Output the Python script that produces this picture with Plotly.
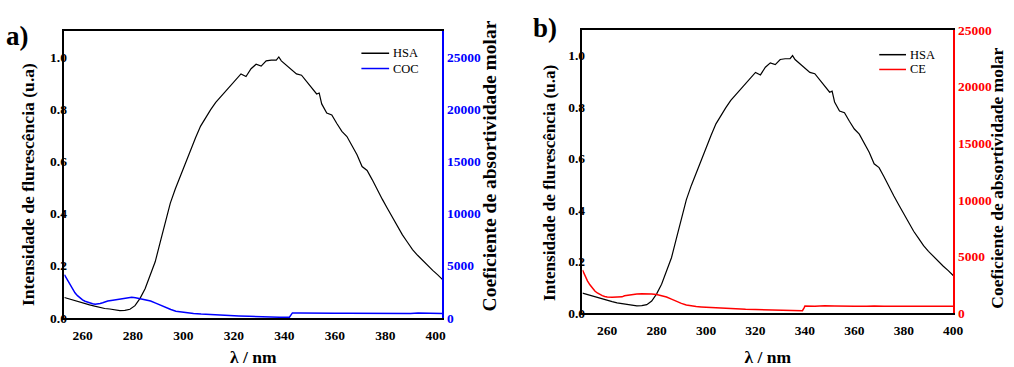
import plotly.graph_objects as go

# ---- Fluorescence emission of HSA (normalised), sampled every 2 nm from 250 nm
hsa_wavelength = list(range(250, 336, 2)) + [335] + list(range(336, 351, 2)) + [351] + list(range(352, 401, 2))
hsa_intensity = [
    0.078, 0.072, 0.068, 0.062, 0.056, 0.050, 0.045, 0.040, 0.036, 0.034,
    0.031, 0.028, 0.029, 0.033, 0.047, 0.075, 0.112, 0.160, 0.215, 0.290,
    0.370, 0.440, 0.495, 0.545, 0.597, 0.640, 0.690, 0.735, 0.768, 0.798,
    0.826, 0.848, 0.870, 0.890, 0.910, 0.935, 0.925, 0.955, 0.972, 0.965,
    0.985, 0.988, 0.988, 1.000, 0.985, 0.968, 0.950, 0.935, 0.930, 0.905,
    0.882, 0.858, 0.862, 0.820, 0.785, 0.778, 0.745, 0.715, 0.695, 0.660,
    0.625, 0.580, 0.565, 0.530, 0.490, 0.455, 0.420, 0.385, 0.350, 0.318,
    0.290, 0.262, 0.240, 0.220, 0.200, 0.182, 0.165, 0.146,
]
# panel a) spectrum was recorded on a window shifted to 252.8 nm
shift_a = 2.8
hsa_wavelength_a = [w + shift_a for w in hsa_wavelength]

# ---- Molar absorptivity of COC (panel a)
coc_wavelength = [
    252.8, 254, 255, 256, 257, 258, 259, 260, 261, 262, 263, 264, 265, 266,
    267, 268, 269, 270, 272, 274, 276, 278, 279.5, 281, 283, 285, 287, 289,
    291, 293, 295, 297, 299, 301, 304, 307, 310, 314, 318, 322, 326, 330,
    334, 338, 342, 342.6, 343.2, 346, 350, 355, 360, 365, 370, 375, 380,
    385, 390, 393, 396, 400, 402.6,
]
coc_absorptivity = [
    4140, 3600, 3150, 2750, 2400, 2130, 1900, 1730, 1600, 1500, 1420, 1360,
    1320, 1330, 1380, 1450, 1560, 1620, 1700, 1790, 1870, 1950, 1980, 1940,
    1850, 1750, 1620, 1420, 1200, 1000, 800, 640, 560, 520, 430, 370, 320,
    270, 220, 180, 150, 110, 90, 70, 70, 300, 480, 470, 450, 460, 440, 450,
    430, 430, 420, 430, 420, 460, 430, 420, 410,
]

# ---- Molar absorptivity of CE (panel b)
ce_wavelength = [
    250, 251, 252, 253, 254, 255, 256, 257, 258, 259, 260, 262, 264, 266,
    267, 268, 270, 272, 274, 276, 278, 280, 282, 284, 286, 288, 290, 292,
    294, 296, 298, 300, 304, 306, 308, 312, 316, 320, 325, 327, 330, 335,
    339, 339.6, 340, 344, 348, 352, 356, 360, 365, 368, 372, 380, 386, 388,
    392, 400,
]
ce_absorptivity = [
    3800, 3300, 2850, 2500, 2200, 1950, 1780, 1640, 1540, 1470, 1420, 1400,
    1400, 1440, 1530, 1570, 1620, 1680, 1720, 1720, 1690, 1640, 1560, 1420,
    1240, 1040, 860, 720, 630, 580, 550, 520, 500, 450, 410, 370, 340, 320,
    300, 270, 260, 230, 220, 450, 620, 600, 660, 640, 600, 600, 600, 640,
    600, 600, 590, 560, 600, 600,
]

intensity_ticks = [0.0, 0.2, 0.4, 0.6, 0.8, 1.0]
intensity_labels = ["0.0", "0.2", "0.4", "0.6", "0.8", "1.0"]
absorptivity_ticks = [0, 5000, 10000, 15000, 20000, 25000]
absorptivity_labels = ["0", "5000", "10000", "15000", "20000", "25000"]
wavelength_ticks = [260, 280, 300, 320, 340, 360, 380, 400]
wavelength_labels = ["260", "280", "300", "320", "340", "360", "380", "400"]

FONT = "Liberation Serif, Times New Roman, serif"
W, H = 1014, 367
BLUE, RED = "#0000ff", "#ff0000"


def px_x(p):
    return p / W


def px_y(p):
    return 1 - p / H


def bold(labels):
    return ["<b>%s</b>" % s for s in labels]


fig = go.Figure()

fig.add_trace(go.Scatter(x=hsa_wavelength_a, y=hsa_intensity, name="HSA",
                         mode="lines", line=dict(color="black", width=1.2),
                         xaxis="x", yaxis="y"))
fig.add_trace(go.Scatter(x=coc_wavelength, y=coc_absorptivity, name="COC",
                         mode="lines", line=dict(color=BLUE, width=1.5),
                         xaxis="x", yaxis="y2"))
fig.add_trace(go.Scatter(x=hsa_wavelength, y=hsa_intensity, name="HSA",
                         mode="lines", line=dict(color="black", width=1.2),
                         xaxis="x2", yaxis="y3"))
fig.add_trace(go.Scatter(x=ce_wavelength, y=ce_absorptivity, name="CE",
                         mode="lines", line=dict(color=RED, width=1.5),
                         xaxis="x2", yaxis="y4"))

tick_font = dict(family=FONT, size=13.5, color="black")


def x_axis(domain, rng, anchor, standoff):
    return dict(domain=domain, range=rng, anchor=anchor,
                tickvals=wavelength_ticks, ticktext=bold(wavelength_labels),
                ticks="", ticklen=0, showgrid=False, zeroline=False,
                showline=True, linecolor="black", linewidth=1.5, mirror=True,
                tickfont=tick_font, ticklabelstandoff=4,
                title=dict(text="<b>λ / nm</b>",
                           font=dict(family=FONT, size=17.5, color="black"),
                           standoff=standoff))


def left_axis(domain, anchor):
    return dict(domain=domain, anchor=anchor, range=[0, 1.1],
                tickvals=intensity_ticks, ticktext=bold(intensity_labels),
                ticks="", ticklen=0, ticklabelstandoff=-7,
                showgrid=False, zeroline=False,
                showline=True, linecolor="black", linewidth=1.5, tickfont=tick_font)


def right_axis(overlay, anchor, top, color):
    return dict(overlaying=overlay, side="right", anchor=anchor, range=[0, top],
                tickvals=absorptivity_ticks, ticktext=bold(absorptivity_labels),
                ticks="", ticklen=0, showgrid=False, zeroline=False,
                showline=True, linecolor=color, linewidth=2,
                tickfont=dict(tick_font, color=color))


def vertical_title(text, x, y, size):
    return dict(text="<b>%s</b>" % text, x=px_x(x), y=px_y(y), xref="paper", yref="paper",
                xanchor="center", yanchor="middle", textangle=-90, showarrow=False,
                font=dict(family=FONT, size=size, color="black"))


def legend_entry(label, color, x0, x1, y):
    line = dict(type="line", xref="paper", yref="paper",
                x0=px_x(x0), x1=px_x(x1), y0=px_y(y), y1=px_y(y),
                line=dict(color=color, width=1.5))
    text = dict(text=label, x=px_x(x1 + 2), y=px_y(y), xref="paper", yref="paper",
                xanchor="left", yanchor="middle", showarrow=False,
                font=dict(family=FONT, size=12.5, color="black"))
    return line, text


legend_items = [
    legend_entry("HSA", "black", 365, 393, 48.5),
    legend_entry("COC", BLUE, 365, 393, 64.5),
    legend_entry("HSA", "black", 888, 915, 50),
    legend_entry("CE", RED, 888, 915, 65.5),
]

fig.update_layout(
    width=W, height=H,
    margin=dict(l=0, r=0, t=0, b=0),
    paper_bgcolor="white", plot_bgcolor="white",
    showlegend=False,
    xaxis=x_axis([px_x(65), px_x(446.7)], [252.8, 402.6], "y", 12),
    yaxis=left_axis([px_y(326), px_y(25)], "x"),
    yaxis2=right_axis("y", "x", 27500, BLUE),
    xaxis2=x_axis([px_x(588.3), px_x(962.7)], [250, 400], "y3", 14),
    yaxis3=left_axis([px_y(321), px_y(24)], "x2"),
    yaxis4=right_axis("y3", "x2", 25000, RED),
    shapes=[item[0] for item in legend_items],
    annotations=[
        dict(text="<b>a)</b>", x=px_x(4), y=px_y(30), xref="paper", yref="paper",
             xanchor="left", yanchor="middle", showarrow=False,
             font=dict(family=FONT, size=27, color="black")),
        dict(text="<b>b)</b>", x=px_x(536), y=px_y(22), xref="paper", yref="paper",
             xanchor="left", yanchor="middle", showarrow=False,
             font=dict(family=FONT, size=27, color="black")),
        vertical_title("Intensidade de flurescência (u.a)", 29, 186, 17.6),
        vertical_title("Coeficiente de absortividade molar", 494, 167, 19.5),
        vertical_title("Intensidade de flurescência (u.a)", 555, 185, 17.1),
        vertical_title("Coeficiente de absortividade molar", 1007, 180, 17.5),
    ] + [item[1] for item in legend_items],
)

fig.write_html("out.html")
